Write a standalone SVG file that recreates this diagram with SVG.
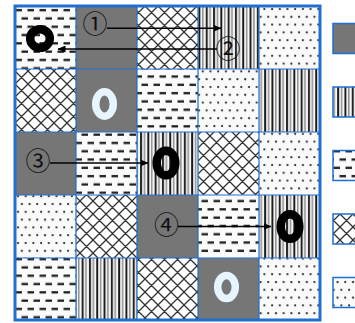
<svg xmlns="http://www.w3.org/2000/svg" width="355" height="323" viewBox="0 0 355 323">
<style>
.g{fill:#767676}
.grid{fill:none;stroke:#1f6fd0;stroke-width:1.2}
.outer{fill:none;stroke:#1f6fd0;stroke-width:3}
.leg{stroke:#1f6fd0;stroke-width:1.5}
.ringB{fill:none;stroke:#000;stroke-width:8.5}
.ringL{fill:none;stroke:#e6f5ff;stroke-width:7.5}
.num{font-family:"Noto Sans CJK JP","DejaVu Sans",sans-serif;font-size:25px;fill:#111;text-anchor:middle}
.conn{stroke:#000;stroke-width:1.6;fill:none}
</style>
<defs>
<pattern id="dash" patternUnits="userSpaceOnUse" width="12" height="16.6" x="15" y="6">
<rect width="12" height="16.6" fill="#fbfbfb"/>
<rect x="0.5" y="3" width="6.5" height="2.3" fill="#1e1e1e"/>
<rect x="6.5" y="11.3" width="6.5" height="2.3" fill="#1e1e1e"/>
<rect x="-5.5" y="11.3" width="6.5" height="2.3" fill="#1e1e1e"/>
</pattern>
<pattern id="dots" patternUnits="userSpaceOnUse" width="15.4" height="15.6" x="15" y="6">
<rect width="15.4" height="15.6" fill="#fafafa"/>
<circle cx="3" cy="3" r="1.1" fill="#222"/>
<circle cx="10.7" cy="3" r="1.1" fill="#222"/>
<circle cx="6.85" cy="10.8" r="1.1" fill="#222"/>
<circle cx="14.55" cy="10.8" r="1.1" fill="#222"/>
<circle cx="-0.85" cy="10.8" r="1.1" fill="#222"/>
</pattern>
<pattern id="cross" patternUnits="userSpaceOnUse" width="13" height="13" x="15" y="6">
<rect width="13" height="13" fill="#fff"/>
<path d="M0,0L13,13M13,0L0,13M-1,12L1,14M12,-1L14,1M-1,1L1,-1M12,14L14,12" stroke="#333" stroke-width="1.3"/>
</pattern>
<pattern id="vstr" patternUnits="userSpaceOnUse" width="7.3" height="10" x="15" y="6">
<rect width="7.3" height="10" fill="#f6f6f6"/>
<rect x="1" y="0" width="1.9" height="10" fill="#151515"/>
<rect x="4.7" y="0" width="1.3" height="10" fill="#808080"/>
</pattern>
<marker id="ah" markerWidth="8" markerHeight="7" refX="7.5" refY="3.5" orient="auto" markerUnits="userSpaceOnUse">
<path d="M0,0L8,3.5L0,7Z" fill="#000"/>
</marker>
</defs>

<g id="cells">
<rect id="c00" x="15" y="6" width="61" height="63" fill="url(#dash)"/>
<rect id="c01" x="76" y="6" width="61" height="63" class="g"/>
<rect id="c02" x="137" y="6" width="61" height="63" fill="url(#cross)"/>
<rect id="c03" x="198" y="6" width="61" height="63" fill="url(#vstr)"/>
<rect id="c04" x="259" y="6" width="61" height="63" fill="url(#dots)"/>
<rect id="c10" x="15" y="69" width="61" height="63" fill="url(#cross)"/>
<rect id="c11" x="76" y="69" width="61" height="63" class="g"/>
<rect id="c12" x="137" y="69" width="61" height="63" fill="url(#dash)"/>
<rect id="c13" x="198" y="69" width="61" height="63" fill="url(#dots)"/>
<rect id="c14" x="259" y="69" width="61" height="63" fill="url(#vstr)"/>
<rect id="c20" x="15" y="132" width="61" height="63" class="g"/>
<rect id="c21" x="76" y="132" width="61" height="63" fill="url(#dash)"/>
<rect id="c22" x="137" y="132" width="61" height="63" fill="url(#vstr)"/>
<rect id="c23" x="198" y="132" width="61" height="63" fill="url(#cross)"/>
<rect id="c24" x="259" y="132" width="61" height="63" fill="url(#dots)"/>
<rect id="c30" x="15" y="195" width="61" height="63" fill="url(#dots)"/>
<rect id="c31" x="76" y="195" width="61" height="63" fill="url(#cross)"/>
<rect id="c32" x="137" y="195" width="61" height="63" class="g"/>
<rect id="c33" x="198" y="195" width="61" height="63" fill="url(#dash)"/>
<rect id="c34" x="259" y="195" width="61" height="63" fill="url(#vstr)"/>
<rect id="c40" x="15" y="258" width="61" height="62" fill="url(#dash)"/>
<rect id="c41" x="76" y="258" width="61" height="62" fill="url(#vstr)"/>
<rect id="c42" x="137" y="258" width="61" height="62" fill="url(#cross)"/>
<rect id="c43" x="198" y="258" width="61" height="62" class="g"/>
<rect id="c44" x="259" y="258" width="61" height="62" fill="url(#dots)"/>
<path class="grid" d="M76,6V320M137,6V320M198,6V320M259,6V320M15,69H320M15,132H320M15,195H320M15,258H320"/>
<rect class="outer" x="15" y="6" width="305" height="314"/>
</g>

<g id="legend">
<rect id="leg-gray" x="333" y="23.5" width="30" height="30" class="g leg"/>
<rect id="leg-stripes" x="333" y="87" width="30" height="30" fill="url(#vstr)" class="leg"/>
<rect id="leg-dashes" x="333" y="150.5" width="30" height="30" fill="url(#dash)" class="leg"/>
<rect id="leg-cross" x="333" y="214" width="30" height="30" fill="url(#cross)" class="leg"/>
<rect id="leg-dots" x="333" y="277.5" width="30" height="30" fill="url(#dots)" class="leg"/>
</g>

<g id="rings">
<ellipse id="ring1" cx="40" cy="38.5" rx="9.8" ry="9.3" class="ringB"/>
<ellipse id="ring2" cx="166" cy="163" rx="9.3" ry="12.3" class="ringB"/>
<ellipse id="ring3" cx="290" cy="226.5" rx="9.3" ry="12.3" class="ringB"/>
<ellipse id="ringL1" cx="104.5" cy="104" rx="8.8" ry="12.2" class="ringL"/>
<ellipse id="ringL2" cx="226.5" cy="287" rx="8.8" ry="11.5" class="ringL"/>
</g>

<g id="connectors">
<path class="conn" d="M107,28.3H221" marker-end="url(#ah)"/>
<path class="conn" d="M217,49H58" marker-end="url(#ah)"/>
<path class="conn" d="M50,163H148" marker-end="url(#ah)"/>
<path class="conn" d="M178,226.5H271" marker-end="url(#ah)"/>
</g>

<g id="labels">
<text id="l1" class="num" x="95" y="32.8">①</text>
<text id="l2" class="num" x="228" y="57.8">②</text>
<text id="l3" class="num" x="38" y="169.8">③</text>
<text id="l4" class="num" x="166.5" y="233.8">④</text>
</g>
</svg>
